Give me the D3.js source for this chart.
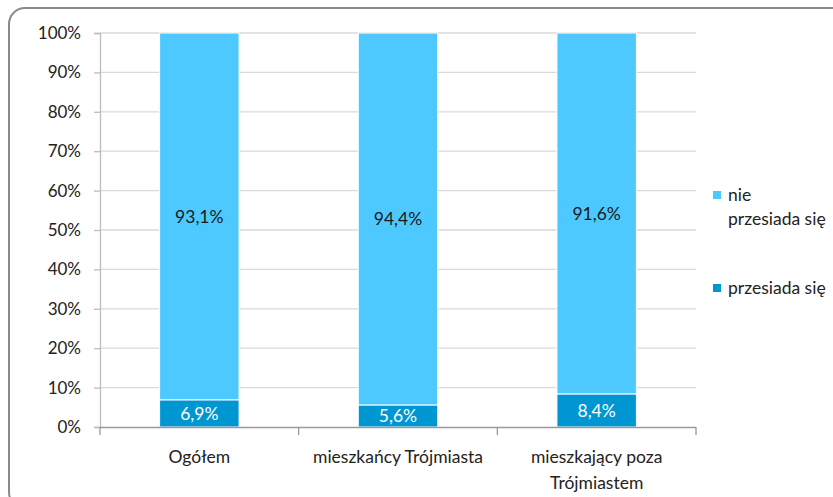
<!DOCTYPE html>
<html><head><meta charset="utf-8">
<script src="https://cdn.jsdelivr.net/npm/d3@7"></script>
<style>body{margin:0;background:#fff}svg{display:block}text{font-family:Lato,"Noto Sans",sans-serif}</style>
</head><body><svg id="c" width="833" height="497"></svg>
<script>
const categories = ["Ogółem", "mieszkańcy Trójmiasta", "mieszkający poza Trójmiastem"];
const categoryLines = [["Ogółem"], ["mieszkańcy Trójmiasta"], ["mieszkający poza", "Trójmiastem"]];
const seriesNames = ["przesiada się", "nie przesiada się"];
const przesiada = [6.9, 5.6, 8.4];
const niePrzesiada = [93.1, 94.4, 91.6];
const yTicks = [0, 10, 20, 30, 40, 50, 60, 70, 80, 90, 100];
const colors = ["#0096D2", "#4DC9FF"];

const svg = d3.select("#c");
svg.append("rect").attr("x", 9).attr("y", 8).attr("width", 840).attr("height", 500)
  .attr("rx", 16).attr("fill", "none").attr("stroke", "#8a8a8a").attr("stroke-width", 2);

const x = d3.scaleBand().domain(categories).range([100, 696]).paddingInner(0.6).paddingOuter(0.3);
const y = d3.scaleLinear().domain([0, 100]).range([427, 33]);
const fmt = v => v.toFixed(1).replace(".", ",") + "%";

// gridlines
svg.append("g").selectAll("line").data(yTicks.filter(t => t > 0)).join("line")
  .attr("x1", 100).attr("x2", 696).attr("y1", d => y(d)).attr("y2", d => y(d))
  .attr("stroke", "#d9d9d9").attr("stroke-width", 1.3);

// y axis
const ya = svg.append("g").attr("transform", "translate(100,0)")
  .call(d3.axisLeft(y).tickValues(yTicks).tickFormat(d => d + "%").tickSize(6).tickPadding(13));
ya.select(".domain").attr("stroke", "#bdbdbd").attr("stroke-width", 1.3);
ya.selectAll(".tick line").attr("stroke", "#bdbdbd").attr("stroke-width", 1.3);
ya.selectAll("text").attr("font-size", 17).attr("fill", "#222").style("font-family", "Lato");

// stacks
const data = categories.map((c, i) => ({cat: c, przesiada: przesiada[i], nie: niePrzesiada[i]}));
const stack = d3.stack().keys(["przesiada", "nie"])(data);
const g = svg.append("g");
stack.forEach((s, si) => {
  g.selectAll(null).data(s).join("rect")
    .attr("x", d => x(d.data.cat)).attr("width", x.bandwidth())
    .attr("y", d => y(d[1])).attr("height", d => y(d[0]) - y(d[1]))
    .attr("fill", colors[si]).attr("stroke", "#fff").attr("stroke-width", 1);
  g.selectAll(null).data(s).join("text")
    .attr("x", d => x(d.data.cat) + x.bandwidth() / 2)
    .attr("y", d => y((d[0] + d[1]) / 2)).attr("dy", "0.35em")
    .attr("text-anchor", "middle").attr("font-size", 17.5)
    .attr("fill", si === 0 ? "#fff" : "#1a1a1a")
    .text(d => fmt(d[1] - d[0]));
});

// x axis
svg.append("line").attr("x1", 100).attr("x2", 696).attr("y1", 427.5).attr("y2", 427.5)
  .attr("stroke", "#9a9a9a").attr("stroke-width", 1.3);
const bounds = [100, 100 + (596 / 3), 100 + 2 * (596 / 3), 696];
svg.append("g").selectAll("line").data(bounds).join("line")
  .attr("x1", d => d).attr("x2", d => d).attr("y1", 427).attr("y2", 435)
  .attr("stroke", "#9a9a9a").attr("stroke-width", 1.3);
categories.forEach((c, i) => {
  const t = svg.append("text").attr("x", x(c) + x.bandwidth() / 2).attr("y", 457)
    .attr("text-anchor", "middle").attr("font-size", 17.5).attr("fill", "#222");
  categoryLines[i].forEach((ln, j) => t.append("tspan").attr("x", x(c) + x.bandwidth() / 2)
    .attr("dy", j === 0 ? "0.35em" : 26).text(ln));
});

// legend
const leg = [{c: colors[1], lines: ["nie", "przesiada się"], y: 195}, {c: colors[0], lines: ["przesiada się"], y: 288}];
leg.forEach(l => {
  svg.append("rect").attr("x", 713).attr("y", l.y - 4).attr("width", 8).attr("height", 8).attr("fill", l.c);
  const t = svg.append("text").attr("x", 728).attr("y", l.y).attr("dy", "0.35em")
    .attr("font-size", 17.5).attr("fill", "#222");
  l.lines.forEach((ln, j) => t.append("tspan").attr("x", 728).attr("dy", j === 0 ? "0.35em" : 24).text(ln));
});
</script></body></html>
